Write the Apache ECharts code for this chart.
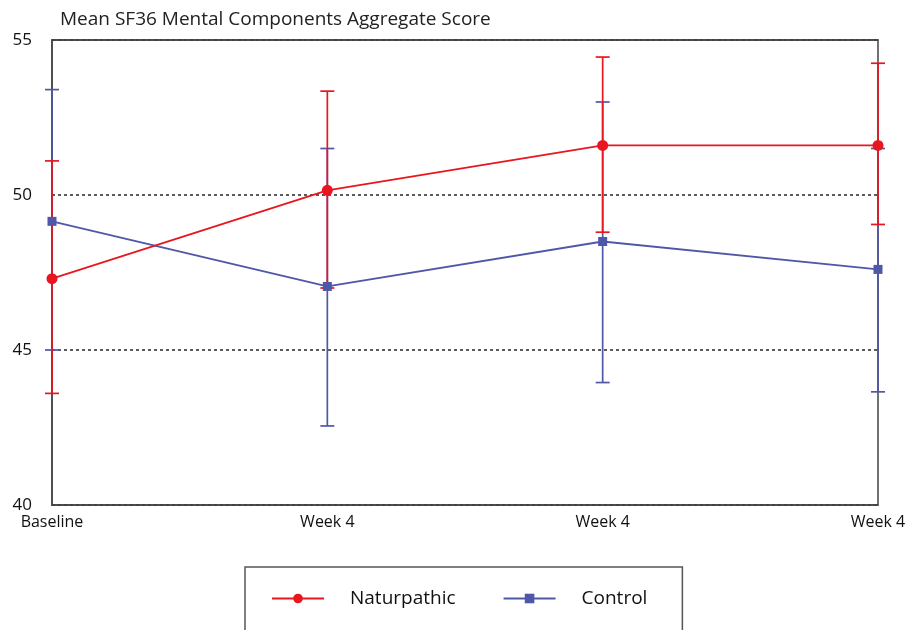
<!DOCTYPE html>
<html>
<head>
<meta charset="utf-8">
<script src="https://cdn.jsdelivr.net/npm/echarts@6/dist/echarts.min.js"></script>
<style>html,body{margin:0;padding:0;background:#fff}#c{width:906px;height:630px}</style>
</head>
<body>
<div id="c"></div>
<script>
const categories = ['Baseline', 'Week 4', 'Week 4', 'Week 4'];
const natMean = [47.3, 50.15, 51.6, 51.6];
const natLow  = [43.6, 47.0, 48.8, 49.05];
const natHigh = [51.1, 53.35, 54.45, 54.25];
const ctlMean = [49.15, 47.05, 48.5, 47.6];
const ctlLow  = [45.0, 42.55, 43.95, 43.65];
const ctlHigh = [53.4, 51.5, 53.0, 51.5];
const yTicks = [40, 45, 50, 55];

const RED = '#e8161e', BLUE = '#4f58a6';
const FONT = 'Open Sans';

function errRender(color) {
  return function (params, api) {
    const x = api.value(0);
    const lo = api.coord([x, api.value(1)]);
    const hi = api.coord([x, api.value(2)]);
    const w = 7;
    const st = { stroke: color, lineWidth: 1.7 };
    return { type: 'group', children: [
      { type: 'line', shape: { x1: lo[0], y1: lo[1], x2: hi[0], y2: hi[1] }, style: st },
      { type: 'line', shape: { x1: lo[0] - w, y1: lo[1], x2: lo[0] + w, y2: lo[1] }, style: st },
      { type: 'line', shape: { x1: hi[0] - w, y1: hi[1], x2: hi[0] + w, y2: hi[1] }, style: st }
    ]};
  };
}

const chart = echarts.init(document.getElementById('c'), null, { renderer: 'canvas' });
chart.setOption({
  animation: false,
  textStyle: { fontFamily: FONT },
  title: {
    text: 'Mean SF36 Mental Components Aggregate Score',
    left: 55, top: 5,
    textStyle: { fontFamily: FONT, fontSize: 19, fontWeight: 'normal', color: '#222' }
  },
  grid: { left: 52, right: 28, top: 40, bottom: 125, show: true, borderColor: '#444', borderWidth: 1.5,
    outerBoundsMode: 'none', containLabel: false },
  xAxis: [{
    type: 'value', min: 0, max: 3, interval: 1,
    axisLine: { lineStyle: { color: '#444', width: 1.5 } },
    axisTick: { show: false },
    splitLine: { show: false },
    axisLabel: { margin: 9, fontSize: 16, color: '#111', fontFamily: FONT,
      formatter: v => categories[v] }
  }, {
    type: 'value', min: 0, max: 3, position: 'top', z: 5,
    axisLine: { show: true, onZero: false, lineStyle: { color: '#444', width: 1.5 } },
    axisTick: { show: false }, axisLabel: { show: false }, splitLine: { show: false }
  }],
  yAxis: {
    type: 'value', min: yTicks[0], max: yTicks[yTicks.length - 1], interval: 5,
    axisLine: { show: true, lineStyle: { color: '#444', width: 1.5 } },
    axisTick: { show: false },
    axisLabel: { margin: 20, fontSize: 17, color: '#111', fontFamily: FONT },
    splitLine: { show: true, lineStyle: { color: '#333', type: [3, 3], width: 1.6 } }
  },
  legend: {
    left: 245, top: 567,
    padding: [22, 35, 40, 26],
    borderColor: '#555', borderWidth: 1.5,
    itemWidth: 52, itemHeight: 12, itemGap: 47,
    textStyle: { fontSize: 19, color: '#111', fontFamily: FONT, padding: [0, 0, 0, 21] },
    data: ['Naturpathic', 'Control']
  },
  series: [
    { type: 'custom', name: 'ctlErr', renderItem: errRender(BLUE), clip: false, z: 2,
      data: ctlMean.map((m, i) => [i, ctlLow[i], ctlHigh[i]]) },
    { type: 'custom', name: 'natErr', renderItem: errRender(RED), clip: false, z: 3,
      data: natMean.map((m, i) => [i, natLow[i], natHigh[i]]) },
    { type: 'line', name: 'Control', z: 4, color: BLUE,
      symbol: 'rect', symbolSize: 9,
      lineStyle: { color: BLUE, width: 1.8 }, itemStyle: { color: BLUE },
      data: ctlMean.map((m, i) => [i, m]) },
    { type: 'line', name: 'Naturpathic', z: 5, color: RED,
      symbol: 'circle', symbolSize: 11,
      lineStyle: { color: RED, width: 1.8 }, itemStyle: { color: RED },
      data: natMean.map((m, i) => [i, m]) }
  ]
});
</script>
</body>
</html>
